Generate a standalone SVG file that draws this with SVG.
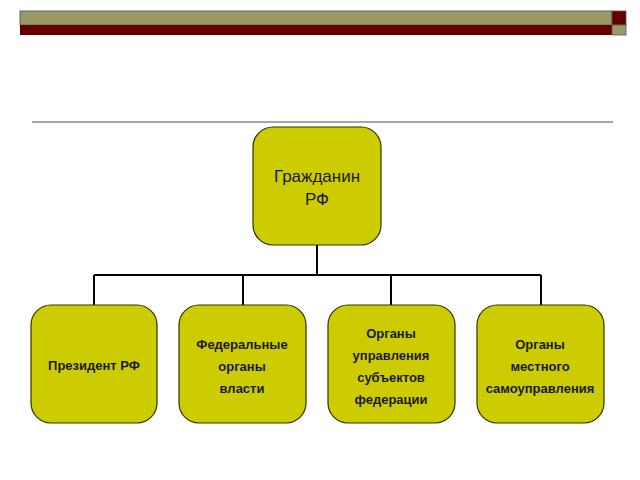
<svg xmlns="http://www.w3.org/2000/svg" width="640" height="480" viewBox="0 0 640 480">
<style>
.b{fill:#cccc00;stroke:#333300;stroke-width:1.2}
.t{font-family:"Liberation Sans",Arial,sans-serif;font-weight:bold;font-size:13px;fill:#1a1a1a;text-anchor:middle}
.c{stroke:#000;stroke-width:2;fill:none}
</style>
<rect width="640" height="480" fill="#fff"/>
<rect x="20" y="11" width="592" height="14" fill="#999966" stroke="#666655" stroke-width="1"/>
<rect x="20" y="25" width="592" height="10" fill="#660000"/>
<rect x="612" y="11" width="14" height="14" fill="#660000" stroke="#555" stroke-width="0.8"/>
<rect x="612" y="25" width="14" height="10" fill="#999966" stroke="#555" stroke-width="0.8"/>
<line x1="32" y1="122" x2="613" y2="122" stroke="#888" stroke-width="1.5"/>
<g id="connectors" class="c">
<path d="M317 245V275M94 275H541M94 275V305M243 275V305M391 275V305M541 275V305"/>
</g>
<g id="n0"><rect class="b" x="253" y="127" width="128" height="118" rx="20"/>
<text class="t" style="font-size:17px;font-weight:normal" x="317" y="182">Гражданин</text>
<text class="t" style="font-size:17px;font-weight:normal" x="317" y="205">РФ</text></g>
<g id="n1"><rect class="b" x="31" y="305" width="126" height="118" rx="20"/>
<text class="t" x="94" y="370">Президент РФ</text></g>
<g id="n2"><rect class="b" x="179" y="305" width="127" height="118" rx="20"/>
<text class="t" x="242" y="349">Федеральные</text><text class="t" x="242" y="371">органы</text><text class="t" x="242" y="393">власти</text></g>
<g id="n3"><rect class="b" x="328" y="305" width="127" height="118" rx="20"/>
<text class="t" x="391" y="338">Органы</text><text class="t" x="391" y="360">управления</text><text class="t" x="391" y="382">субъектов</text><text class="t" x="391" y="404">федерации</text></g>
<g id="n4"><rect class="b" x="477" y="305" width="127" height="118" rx="20"/>
<text class="t" x="540" y="349">Органы</text><text class="t" x="540" y="371">местного</text><text class="t" x="540" y="393">самоуправления</text></g>
</svg>
